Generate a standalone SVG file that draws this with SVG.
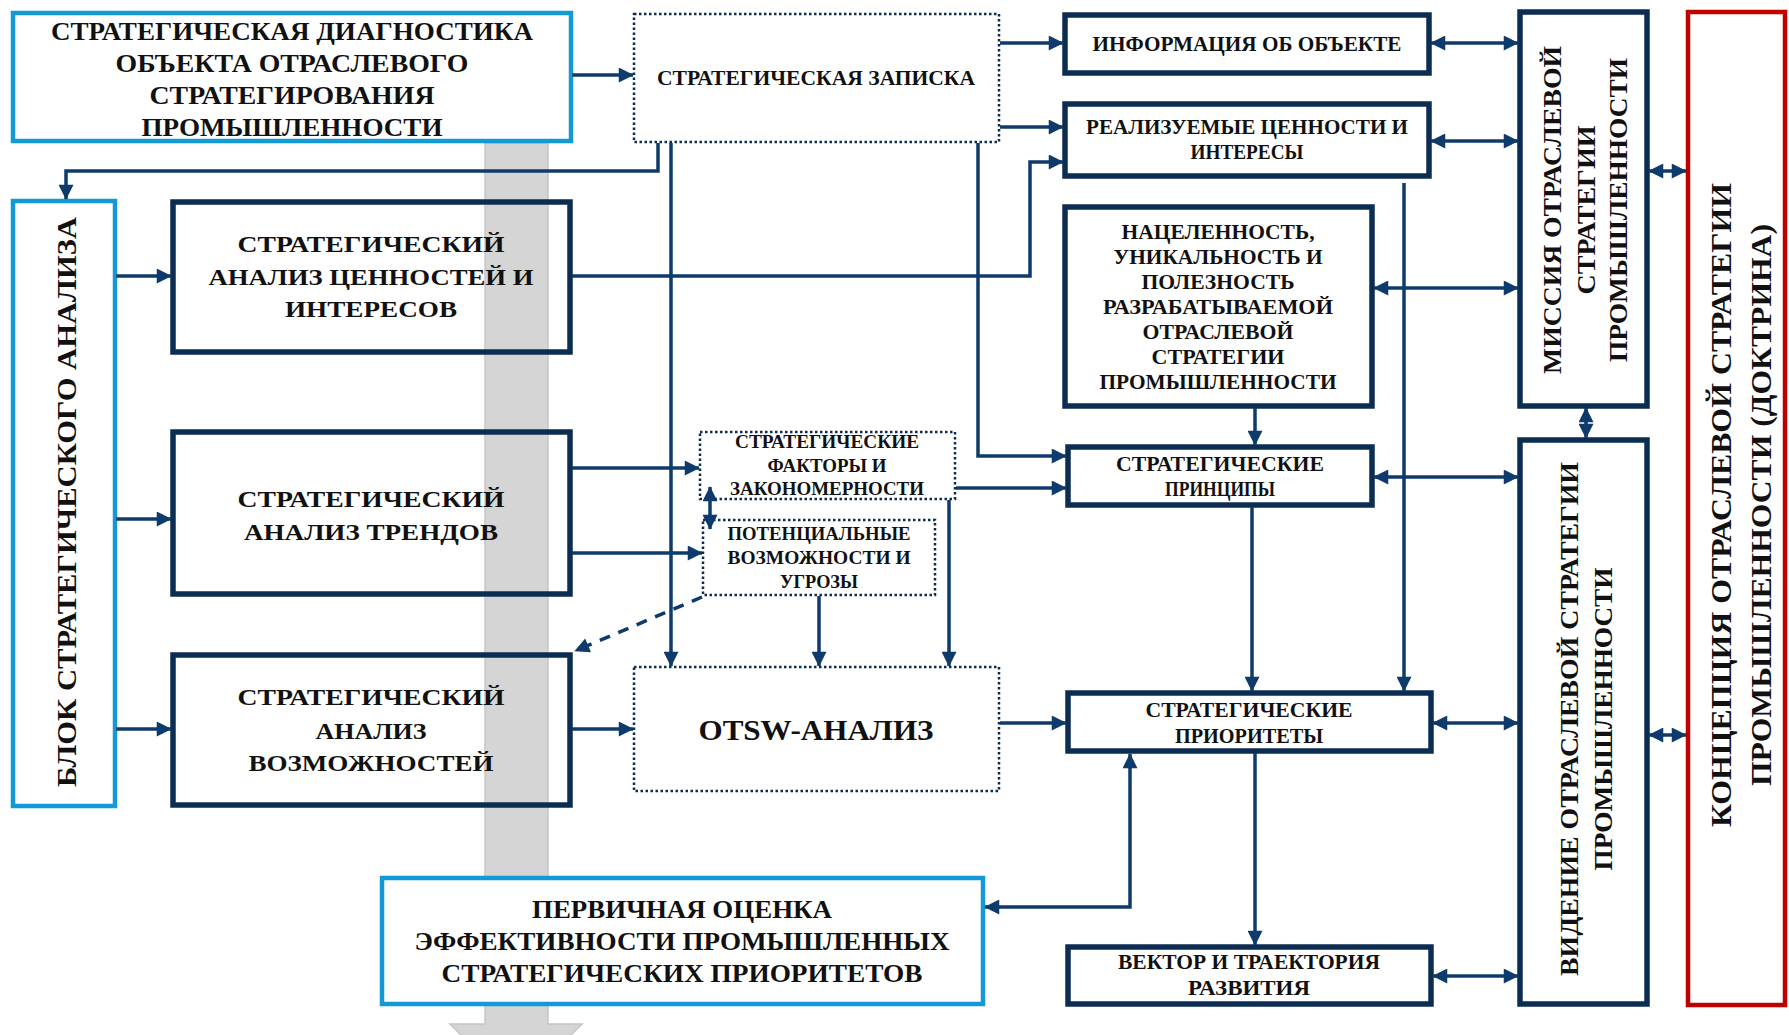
<svg xmlns="http://www.w3.org/2000/svg" width="1789" height="1035" viewBox="0 0 1789 1035">
<style>
.t{font-family:"Liberation Serif","Times New Roman",serif;font-weight:bold;fill:#111;text-anchor:middle}
.nb{fill:none;stroke:#0c2d52;stroke-width:5.5}
.nbw{fill:#fff;stroke:#0c2d52;stroke-width:5.5}
.lb{fill:#fff;stroke:#139ad6;stroke-width:4.5}
.lbn{fill:none;stroke:#139ad6;stroke-width:4.5}
.dt{fill:#fff;stroke:#0c2d52;stroke-width:2.5;stroke-dasharray:2.5 2.5}
.rd{fill:none;stroke:#c00000;stroke-width:4.5}
.c{fill:none;stroke:#0e3b6b;stroke-width:3.5}
.a{marker-end:url(#ah)}
.d{marker-start:url(#ah);marker-end:url(#ah)}
.dash{stroke-dasharray:11 9}
</style>
<defs>
<marker id="ah" viewBox="0 0 10 10" refX="9.5" refY="5" markerWidth="16" markerHeight="15" markerUnits="userSpaceOnUse" orient="auto-start-reverse">
<path d="M0,0 L10,5 L0,10 z" fill="#0e3b6b"/>
</marker>
</defs>
<rect width="1789" height="1035" fill="#fff"/>

<g id="band">
<polygon points="485,143 548,143 548,1024 582,1024 516,1090 450,1024 485,1024" fill="#d5d5d5" stroke="#c6c6c6" stroke-width="1.5"/>
</g>

<g id="n-diag">
<rect class="lb" x="13" y="13" width="558" height="128"/>
<text class="t" font-size="25" x="292" y="40" textLength="482" lengthAdjust="spacingAndGlyphs">СТРАТЕГИЧЕСКАЯ ДИАГНОСТИКА</text>
<text class="t" font-size="25" x="292" y="72" textLength="353" lengthAdjust="spacingAndGlyphs">ОБЪЕКТА ОТРАСЛЕВОГО</text>
<text class="t" font-size="25" x="292" y="104" textLength="285" lengthAdjust="spacingAndGlyphs">СТРАТЕГИРОВАНИЯ</text>
<text class="t" font-size="25" x="292" y="136" textLength="301" lengthAdjust="spacingAndGlyphs">ПРОМЫШЛЕННОСТИ</text>
</g>

<g id="n-zapiska">
<rect class="dt" x="634" y="14" width="365" height="128"/>
<text class="t" font-size="20" x="816" y="85" textLength="318" lengthAdjust="spacingAndGlyphs">СТРАТЕГИЧЕСКАЯ ЗАПИСКА</text>
</g>

<g id="n-info">
<rect class="nbw" x="1065" y="15" width="364" height="58"/>
<text class="t" font-size="20" x="1247" y="51" textLength="309" lengthAdjust="spacingAndGlyphs">ИНФОРМАЦИЯ ОБ ОБЪЕКТЕ</text>
</g>

<g id="n-realiz">
<rect class="nbw" x="1065" y="104" width="364" height="72"/>
<text class="t" font-size="20" x="1247" y="134" textLength="322" lengthAdjust="spacingAndGlyphs">РЕАЛИЗУЕМЫЕ ЦЕННОСТИ И</text>
<text class="t" font-size="20" x="1247" y="159" textLength="113" lengthAdjust="spacingAndGlyphs">ИНТЕРЕСЫ</text>
</g>

<g id="n-nacel">
<rect class="nbw" x="1065" y="207" width="307" height="199"/>
<text class="t" font-size="20" x="1218" y="239" textLength="193" lengthAdjust="spacingAndGlyphs">НАЦЕЛЕННОСТЬ,</text>
<text class="t" font-size="20" x="1218" y="264" textLength="209" lengthAdjust="spacingAndGlyphs">УНИКАЛЬНОСТЬ И</text>
<text class="t" font-size="20" x="1218" y="289" textLength="153" lengthAdjust="spacingAndGlyphs">ПОЛЕЗНОСТЬ</text>
<text class="t" font-size="20" x="1218" y="314" textLength="230" lengthAdjust="spacingAndGlyphs">РАЗРАБАТЫВАЕМОЙ</text>
<text class="t" font-size="20" x="1218" y="339" textLength="151" lengthAdjust="spacingAndGlyphs">ОТРАСЛЕВОЙ</text>
<text class="t" font-size="20" x="1218" y="364" textLength="133" lengthAdjust="spacingAndGlyphs">СТРАТЕГИИ</text>
<text class="t" font-size="20" x="1218" y="389" textLength="237" lengthAdjust="spacingAndGlyphs">ПРОМЫШЛЕННОСТИ</text>
</g>

<g id="n-missiya">
<rect class="nbw" x="1520" y="12" width="127" height="394"/>
<text class="t" font-size="26" transform="translate(1561,210) rotate(-90)" textLength="328" lengthAdjust="spacingAndGlyphs">МИССИЯ ОТРАСЛЕВОЙ</text>
<text class="t" font-size="26" transform="translate(1595,210) rotate(-90)" textLength="169" lengthAdjust="spacingAndGlyphs">СТРАТЕГИИ</text>
<text class="t" font-size="26" transform="translate(1627,210) rotate(-90)" textLength="304" lengthAdjust="spacingAndGlyphs">ПРОМЫШЛЕННОСТИ</text>
</g>

<g id="n-koncepciya">
<rect class="rd" x="1688" y="12" width="97" height="993"/>
<text class="t" font-size="30" transform="translate(1731,505) rotate(-90)" textLength="644" lengthAdjust="spacingAndGlyphs">КОНЦЕПЦИЯ ОТРАСЛЕВОЙ СТРАТЕГИИ</text>
<text class="t" font-size="30" transform="translate(1771,505) rotate(-90)" textLength="562" lengthAdjust="spacingAndGlyphs">ПРОМЫШЛЕННОСТИ (ДОКТРИНА)</text>
</g>

<g id="n-blok">
<rect class="lbn" x="13" y="201" width="102" height="605"/>
<text class="t" font-size="28" transform="translate(76,502) rotate(-90)" textLength="570" lengthAdjust="spacingAndGlyphs">БЛОК СТРАТЕГИЧЕСКОГО АНАЛИЗА</text>
</g>

<g id="n-a1">
<rect class="nb" x="173" y="202" width="397" height="150"/>
<text class="t" font-size="24" x="371" y="252" textLength="267" lengthAdjust="spacingAndGlyphs">СТРАТЕГИЧЕСКИЙ</text>
<text class="t" font-size="24" x="371" y="285" textLength="325" lengthAdjust="spacingAndGlyphs">АНАЛИЗ  ЦЕННОСТЕЙ И</text>
<text class="t" font-size="24" x="371" y="317" textLength="172" lengthAdjust="spacingAndGlyphs">ИНТЕРЕСОВ</text>
</g>

<g id="n-a2">
<rect class="nb" x="173" y="432" width="397" height="162"/>
<text class="t" font-size="24" x="371" y="507" textLength="267" lengthAdjust="spacingAndGlyphs">СТРАТЕГИЧЕСКИЙ</text>
<text class="t" font-size="24" x="371" y="540" textLength="254" lengthAdjust="spacingAndGlyphs">АНАЛИЗ  ТРЕНДОВ</text>
</g>

<g id="n-a3">
<rect class="nb" x="173" y="655" width="397" height="150"/>
<text class="t" font-size="24" x="371" y="705" textLength="267" lengthAdjust="spacingAndGlyphs">СТРАТЕГИЧЕСКИЙ</text>
<text class="t" font-size="24" x="371" y="739" textLength="111" lengthAdjust="spacingAndGlyphs">АНАЛИЗ</text>
<text class="t" font-size="24" x="371" y="771" textLength="245" lengthAdjust="spacingAndGlyphs">ВОЗМОЖНОСТЕЙ</text>
</g>

<g id="n-faktory">
<rect class="dt" x="700" y="432" width="255" height="67"/>
<text class="t" font-size="18.5" x="827" y="448" textLength="184" lengthAdjust="spacingAndGlyphs">СТРАТЕГИЧЕСКИЕ</text>
<text class="t" font-size="18.5" x="827" y="472" textLength="119" lengthAdjust="spacingAndGlyphs">ФАКТОРЫ И</text>
<text class="t" font-size="18.5" x="827" y="495" textLength="194" lengthAdjust="spacingAndGlyphs">ЗАКОНОМЕРНОСТИ</text>
</g>

<g id="n-potential">
<rect class="dt" x="703" y="520" width="232" height="75"/>
<text class="t" font-size="18.5" x="819" y="540" textLength="183" lengthAdjust="spacingAndGlyphs">ПОТЕНЦИАЛЬНЫЕ</text>
<text class="t" font-size="18.5" x="819" y="564" textLength="183" lengthAdjust="spacingAndGlyphs">ВОЗМОЖНОСТИ И</text>
<text class="t" font-size="18.5" x="819" y="588" textLength="78" lengthAdjust="spacingAndGlyphs">УГРОЗЫ</text>
</g>

<g id="n-otsw">
<rect class="dt" x="634" y="667" width="365" height="124"/>
<text class="t" font-size="30" x="816" y="740" textLength="235" lengthAdjust="spacingAndGlyphs">OTSW-АНАЛИЗ</text>
</g>

<g id="n-principy">
<rect class="nbw" x="1068" y="447" width="304" height="58"/>
<text class="t" font-size="20" x="1220" y="471" textLength="208" lengthAdjust="spacingAndGlyphs">СТРАТЕГИЧЕСКИЕ</text>
<text class="t" font-size="20" x="1220" y="496" textLength="110" lengthAdjust="spacingAndGlyphs">ПРИНЦИПЫ</text>
</g>

<g id="n-prioritety">
<rect class="nbw" x="1068" y="693" width="363" height="58"/>
<text class="t" font-size="20" x="1249" y="717" textLength="207" lengthAdjust="spacingAndGlyphs">СТРАТЕГИЧЕСКИЕ</text>
<text class="t" font-size="20" x="1249" y="743" textLength="148" lengthAdjust="spacingAndGlyphs">ПРИОРИТЕТЫ</text>
</g>

<g id="n-vektor">
<rect class="nbw" x="1068" y="947" width="363" height="57"/>
<text class="t" font-size="20" x="1249" y="969" textLength="262" lengthAdjust="spacingAndGlyphs">ВЕКТОР И ТРАЕКТОРИЯ</text>
<text class="t" font-size="20" x="1249" y="995" textLength="122" lengthAdjust="spacingAndGlyphs">РАЗВИТИЯ</text>
</g>

<g id="n-videnie">
<rect class="nbw" x="1520" y="440" width="127" height="564"/>
<text class="t" font-size="26" transform="translate(1578,719) rotate(-90)" textLength="514" lengthAdjust="spacingAndGlyphs">ВИДЕНИЕ ОТРАСЛЕВОЙ СТРАТЕГИИ</text>
<text class="t" font-size="26" transform="translate(1612,719) rotate(-90)" textLength="303" lengthAdjust="spacingAndGlyphs">ПРОМЫШЛЕННОСТИ</text>
</g>

<g id="n-pervichnaya">
<rect class="lb" x="382" y="878" width="601" height="126"/>
<text class="t" font-size="25" x="682" y="918" textLength="300" lengthAdjust="spacingAndGlyphs">ПЕРВИЧНАЯ ОЦЕНКА</text>
<text class="t" font-size="25" x="682" y="950" textLength="535" lengthAdjust="spacingAndGlyphs">ЭФФЕКТИВНОСТИ ПРОМЫШЛЕННЫХ</text>
<text class="t" font-size="25" x="682" y="982" textLength="481" lengthAdjust="spacingAndGlyphs">СТРАТЕГИЧЕСКИХ ПРИОРИТЕТОВ</text>
</g>

<g id="connectors">
<path class="c a" d="M572,75 H633"/>
<path class="c a" d="M1000,43 H1063"/>
<path class="c a" d="M1000,127 H1063"/>
<path class="c a" d="M658,143 V171 H66 V199"/>
<path class="c a" d="M671,143 V666"/>
<path class="c a" d="M978,143 V456 H1066"/>
<path class="c a" d="M572,276 H1030 V162 H1063"/>
<path class="c a" d="M116,276 H171"/>
<path class="c a" d="M116,519 H171"/>
<path class="c a" d="M116,729 H171"/>
<path class="c a" d="M572,468 H699"/>
<path class="c a" d="M572,553 H702"/>
<path class="c d" d="M710,487 V529"/>
<path class="c a" d="M956,488 H1066"/>
<path class="c a" d="M949,500 V666"/>
<path class="c a" d="M819,596 V666"/>
<path class="c a dash" d="M702,597 L575,651"/>
<path class="c a" d="M572,729 H633"/>
<path class="c a" d="M1000,723 H1066"/>
<path class="c a" d="M1252,507 V691"/>
<path class="c a" d="M1255,408 V445"/>
<path class="c a" d="M1404,183 V691"/>
<path class="c a" d="M1255,753 V945"/>
<path class="c d" d="M1130,754 V907 H985"/>
<path class="c d" d="M1431,43 H1518"/>
<path class="c d" d="M1431,141 H1518"/>
<path class="c d" d="M1374,288 H1518"/>
<path class="c d" d="M1374,477 H1518"/>
<path class="c d" d="M1433,723 H1518"/>
<path class="c d" d="M1433,976 H1518"/>
<path class="c d" d="M1586,408 V438"/>
<path class="c d" d="M1649,171 H1686"/>
<path class="c d" d="M1649,735 H1686"/>
</g>
</svg>
